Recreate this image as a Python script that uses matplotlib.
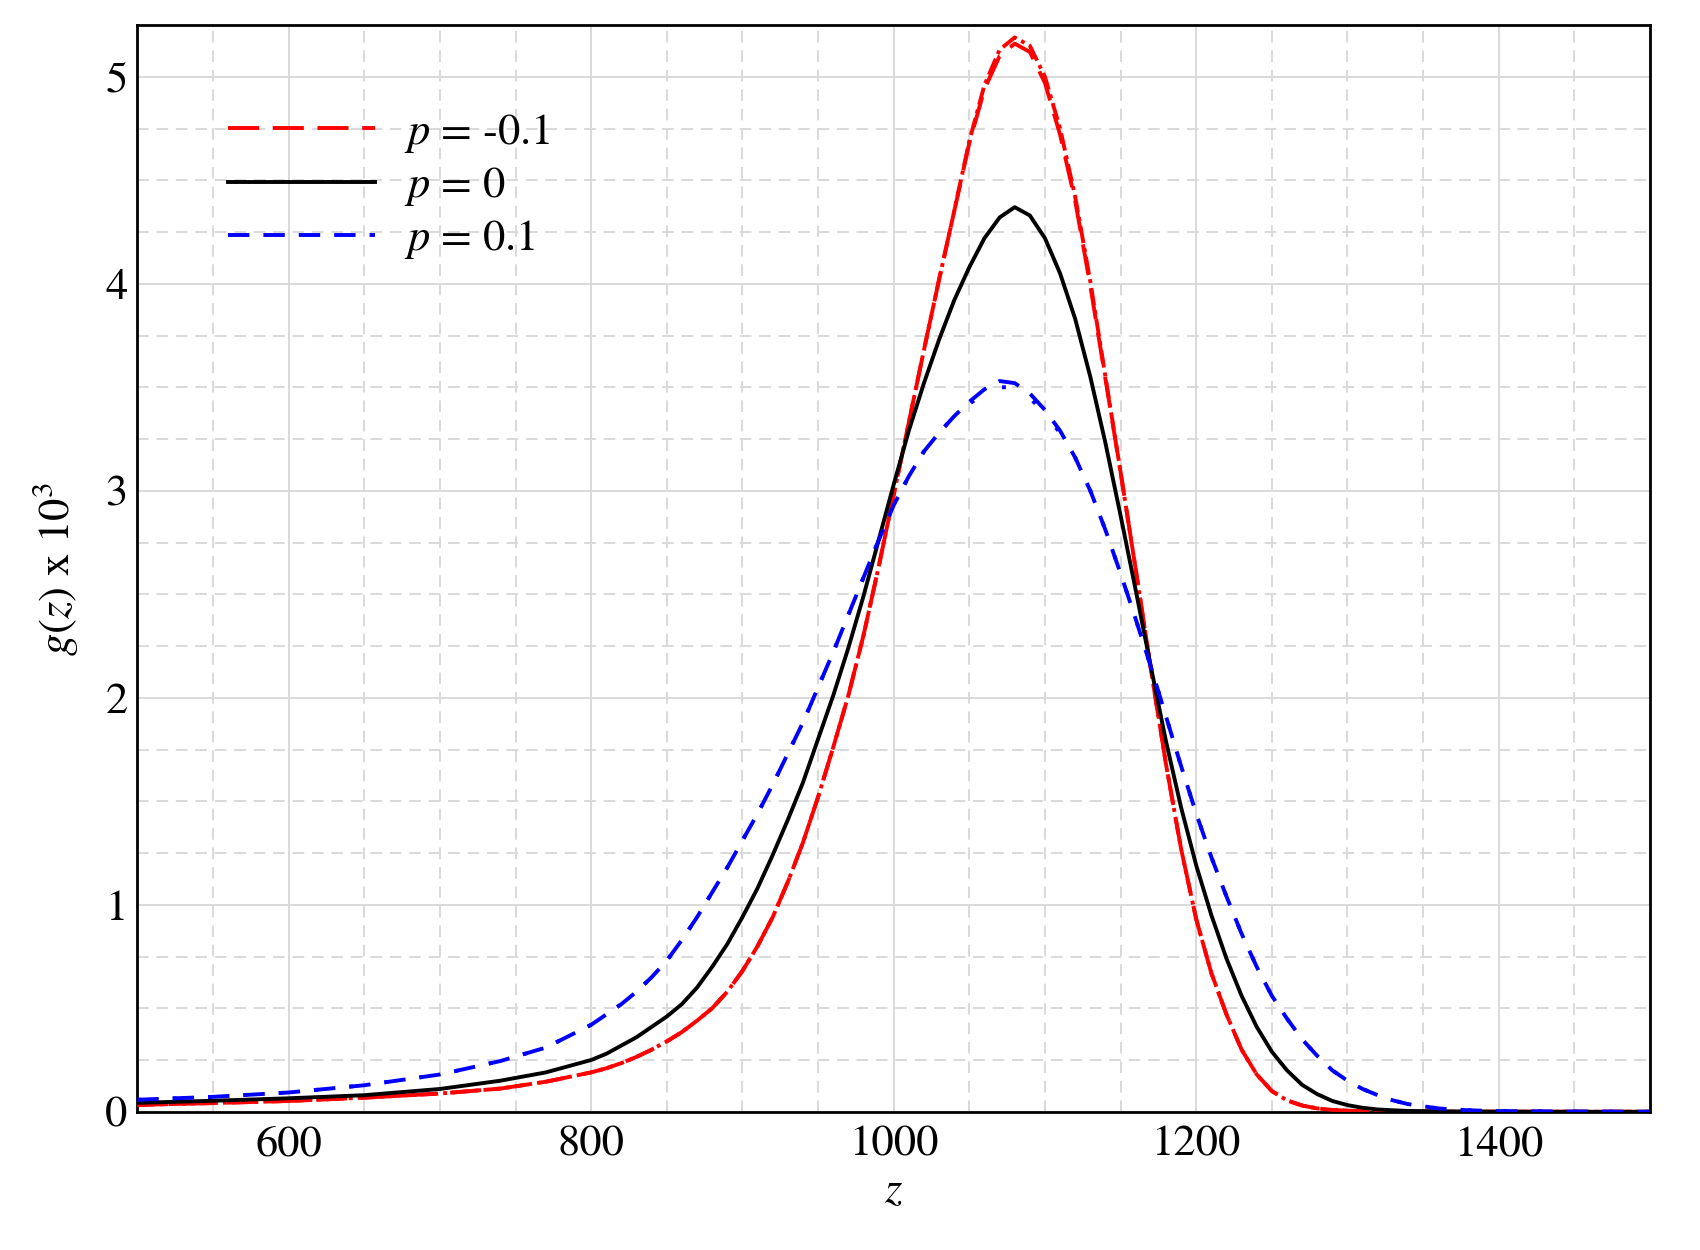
import matplotlib
matplotlib.use("Agg")
import matplotlib.pyplot as plt
import numpy as np

# values: z and g(z) x 10^3
z_vals = ([500, 550, 600, 650, 700, 740, 770]
          + list(range(800, 1341, 10))
          + [1360, 1380, 1400, 1450, 1500])

# p = -0.1, dashed curve
g_red = [0.033, 0.042, 0.052, 0.068, 0.088, 0.112, 0.145,
         0.19, 0.21, 0.235, 0.265, 0.30, 0.34, 0.385, 0.44, 0.50, 0.58,
         0.68, 0.80, 0.94, 1.11, 1.30, 1.52, 1.76, 2.01, 2.30, 2.63,
         2.98, 3.33, 3.68, 4.02, 4.35, 4.68, 4.94, 5.10, 5.16, 5.12,
         4.97, 4.72, 4.40, 3.99, 3.54, 3.09, 2.62, 2.14, 1.68, 1.27,
         0.93, 0.67, 0.47, 0.30, 0.18, 0.10, 0.055, 0.03, 0.016, 0.009,
         0.005, 0.003, 0.002, 0.0015, 0.001,
         0.0, 0.0, 0.0, 0.0, 0.0]

# p = -0.1, dash-dot curve
g_red_alt = [0.033, 0.042, 0.052, 0.068, 0.088, 0.112, 0.145,
             0.19, 0.21, 0.235, 0.265, 0.30, 0.34, 0.385, 0.44, 0.50, 0.58,
             0.68, 0.80, 0.94, 1.11, 1.30, 1.52, 1.76, 2.01, 2.30, 2.63,
             2.98, 3.33, 3.68, 4.02, 4.35, 4.69, 4.96, 5.13, 5.19, 5.15,
             5.00, 4.75, 4.42, 4.01, 3.55, 3.09, 2.62, 2.14, 1.68, 1.27,
             0.93, 0.67, 0.47, 0.30, 0.18, 0.10, 0.055, 0.03, 0.016, 0.009,
             0.005, 0.003, 0.002, 0.0015, 0.001,
             0.0, 0.0, 0.0, 0.0, 0.0]

# p = 0
g_black = [0.043, 0.053, 0.065, 0.08, 0.11, 0.15, 0.19,
           0.25, 0.28, 0.32, 0.36, 0.41, 0.46, 0.52, 0.60, 0.70, 0.81,
           0.94, 1.08, 1.24, 1.41, 1.59, 1.80, 2.01, 2.24, 2.49, 2.76,
           3.03, 3.29, 3.52, 3.73, 3.92, 4.08, 4.22, 4.32, 4.37, 4.33,
           4.22, 4.05, 3.83, 3.55, 3.23, 2.88, 2.52, 2.15, 1.79, 1.47,
           1.19, 0.95, 0.74, 0.56, 0.41, 0.29, 0.20, 0.13, 0.085, 0.052,
           0.032, 0.019, 0.011, 0.007, 0.004,
           0.002, 0.001, 0.0005, 0.0, 0.0]

# p = 0.1, dashed curve
g_blue = [0.058, 0.072, 0.093, 0.128, 0.18, 0.245, 0.31,
          0.42, 0.47, 0.52, 0.58, 0.65, 0.73, 0.83, 0.94, 1.06, 1.18,
          1.31, 1.44, 1.58, 1.73, 1.88, 2.05, 2.22, 2.40, 2.58, 2.76,
          2.93, 3.07, 3.19, 3.28, 3.36, 3.43, 3.49, 3.53, 3.52, 3.47,
          3.39, 3.29, 3.16, 3.00, 2.81, 2.60, 2.38, 2.15, 1.91, 1.67,
          1.44, 1.23, 1.04, 0.86, 0.70, 0.56, 0.45, 0.35, 0.27, 0.20,
          0.15, 0.11, 0.08, 0.055, 0.037,
          0.016, 0.007, 0.003, 0.001, 0.0]

# p = 0.1, dotted curve
g_blue_alt = [0.058, 0.072, 0.093, 0.128, 0.18, 0.245, 0.31,
              0.42, 0.47, 0.52, 0.58, 0.65, 0.73, 0.83, 0.94, 1.06, 1.18,
              1.31, 1.44, 1.58, 1.73, 1.88, 2.05, 2.22, 2.40, 2.58, 2.76,
              2.93, 3.07, 3.19, 3.28, 3.36, 3.42, 3.47, 3.50, 3.50, 3.45,
              3.37, 3.28, 3.16, 3.00, 2.81, 2.60, 2.38, 2.15, 1.91, 1.67,
              1.44, 1.23, 1.04, 0.86, 0.70, 0.56, 0.45, 0.35, 0.27, 0.20,
              0.15, 0.11, 0.08, 0.055, 0.037,
              0.016, 0.007, 0.003, 0.001, 0.0]

labels = ["$p$ = -0.1", "$p$ = 0", "$p$ = 0.1"]
x_ticks = [600, 800, 1000, 1200, 1400]
y_ticks = [0, 1, 2, 3, 4, 5]

plt.rcParams["font.family"] = ["STIXGeneral", "DejaVu Serif"]
plt.rcParams["mathtext.fontset"] = "stix"

fig = plt.figure(figsize=(17, 12.5), dpi=100)
ax = fig.add_axes([0.0808, 0.1106, 0.8898, 0.8694])

# grid: solid at the labelled ticks, dashed in between
grid_col = "#d9d9d9"
dash = (0, (6, 4))
for xv in np.arange(550, 1500, 50):
    ls = "-" if xv in x_ticks else dash
    ax.axvline(xv, color=grid_col, lw=1.4, ls=ls, zorder=0)
for yv in np.arange(0.25, 5.25, 0.25):
    ls = "-" if float(yv).is_integer() else dash
    ax.axhline(yv, color=grid_col, lw=1.4, ls=ls, zorder=0)

lw = 2.8
ax.plot(z_vals, g_red_alt, color="red", lw=lw, ls=(0, (4.5, 1.3, 1, 1.3)), zorder=3)
ax.plot(z_vals, g_red, color="red", lw=lw, ls=(0, (8, 3.5)), label=labels[0], zorder=3)
ax.plot(z_vals, g_black, color="black", lw=lw, ls="-", label=labels[1], zorder=4)
# dotted blue shares the dash period so its dots hide inside the dashes
ax.plot(z_vals, g_blue_alt, color="blue", lw=lw, ls=(0, (1, 8.1)), zorder=5)
ax.plot(z_vals, g_blue, color="blue", lw=lw, ls=(0, (5.5, 3.6)), label=labels[2], zorder=5)

ax.set_xlim(500, 1500)
ax.set_ylim(0, 5.25)
ax.set_xticks(x_ticks)
ax.set_yticks(y_ticks)
ax.tick_params(length=0, labelsize=32)
ax.tick_params(axis="x", pad=10)
ax.tick_params(axis="y", pad=7)
for s in ax.spines.values():
    s.set_linewidth(2.0)

ax.set_xlabel("$z$", fontsize=32, labelpad=6)
ax.set_ylabel("$g$($z$) x 10$^{3}$", fontsize=32, labelpad=18)

handles, leg_labels = ax.get_legend_handles_labels()
ax.legend(handles, leg_labels, loc="upper left", bbox_to_anchor=(0.06, 0.92),
          frameon=False, fontsize=32, handlelength=3.3, handletextpad=0.65,
          labelspacing=0.23, borderpad=0, borderaxespad=0)

fig.savefig("out.png", dpi=100)
